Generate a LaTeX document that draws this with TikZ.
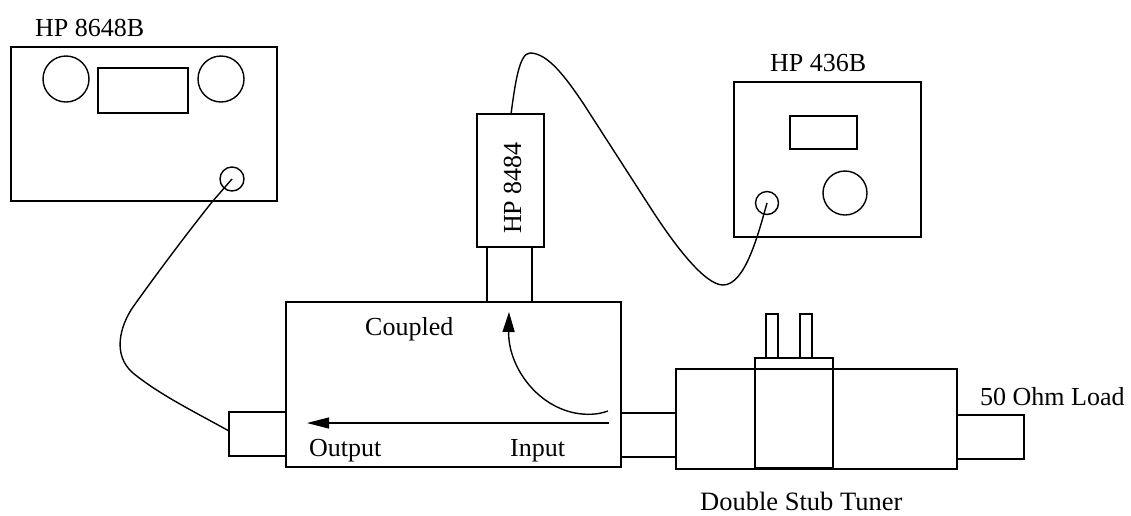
\documentclass[tikz,border=0pt]{standalone}
\usepackage{fontspec}
\setmainfont{Liberation Serif}
\usetikzlibrary{arrows.meta}
\tikzset{
  box/.style={draw=black,line width=1.4pt,inner sep=0pt,outer sep=0pt,anchor=north west},
  knob/.style={draw=black,line width=1.4pt,circle,inner sep=0pt,outer sep=0pt},
  wire/.style={draw=black,line width=1.4pt},
  lab/.style={inner sep=0pt,font=\fontsize{26}{30}\selectfont,text=black,anchor=base west}
}
\begin{document}
\begin{tikzpicture}[x=1pt,y=-1pt]
\useasboundingbox (0,0) rectangle (1131,515);
% signal generator
\node[box,minimum width=266pt,minimum height=154pt] (gen) at (11,47) {};
\node[knob,minimum size=46pt] (k1) at (66,79) {};
\node[knob,minimum size=46pt] (k2) at (221,79) {};
\node[box,minimum width=90pt,minimum height=45pt] (disp1) at (98,68) {};
\node[knob,minimum size=24pt] (port1) at (232,179) {};
% power meter
\node[box,minimum width=187pt,minimum height=155pt] (meter) at (734,82) {};
\node[box,minimum width=67pt,minimum height=33pt] (disp2) at (790,116) {};
\node[knob,minimum size=44pt] (k3) at (845,193) {};
\node[knob,minimum size=23pt] (port2) at (767,203) {};
% sensor
\node[box,minimum width=45pt,minimum height=55pt] (neck) at (487,247) {};
\node[box,minimum width=67pt,minimum height=133pt] (sensor) at (477,114) {};
% coupler
\node[box,minimum width=335pt,minimum height=165pt] (coupler) at (286,302) {};
\node[box,minimum width=57pt,minimum height=44pt] (outp) at (229,412) {};
\node[box,minimum width=55pt,minimum height=44pt] (link) at (621,413) {};
% tuner
\node[box,minimum width=12pt,minimum height=44pt] (stub1) at (766,314) {};
\node[box,minimum width=12pt,minimum height=44pt] (stub2) at (800,314) {};
\node[box,minimum width=281pt,minimum height=100pt] (tuner) at (676,369) {};
\node[box,minimum width=78pt,minimum height=110pt] (slide) at (755,358) {};
\node[box,minimum width=67pt,minimum height=44pt] (load) at (957,415) {};
% cables
\coordinate (gnd) at (229,431);
\draw[wire] (port1.center) -- (212,202) .. controls (185,236) and (158,272) .. (133,307) .. controls (120,326) and (112,355) .. (133,373) .. controls (160,395) and (195,412) .. (gnd);
\coordinate (sTop) at (511,114);
\draw[wire] (sTop) .. controls (515,85) and (519,53) .. (530,53) .. controls (548,53) and (566,78) .. (583,103) .. controls (603,134) and (630,176) .. (650,207) .. controls (675,246) and (705,285) .. (723,285) .. controls (745,285) and (758,235) .. (port2.center);
% arrows
\coordinate (a1s) at (608,411);
\coordinate (a1e) at (509,312);
\coordinate (a2s) at (609,423);
\coordinate (a2e) at (307,423);
\draw[wire,-{Stealth[length=20pt,width=12pt,inset=0pt]}] (a1s) .. controls (597,415) and (586,415) .. (575,413) .. controls (535,405) and (508,365) .. (a1e);
\draw[wire,line width=1.1pt,-{Stealth[length=22pt,width=11pt,inset=0pt]}] (a2s) -- (a2e);
% labels
\node[lab] (t1) at (35,36) {HP 8648B};
\node[lab] (t2) at (770,71) {HP 436B};
\node[lab,rotate=90] (t3) at (521,234) {HP 8484};
\node[lab] (t4) at (365,335) {Coupled};
\node[lab] (t5) at (309,456) {Output};
\node[lab] (t6) at (510,456) {Input};
\node[lab] (t7) at (980,405) {50 Ohm Load};
\node[lab,font=\fontsize{26.5}{30}\selectfont] (t8) at (700,510) {Double Stub Tuner};
\end{tikzpicture}
\end{document}
